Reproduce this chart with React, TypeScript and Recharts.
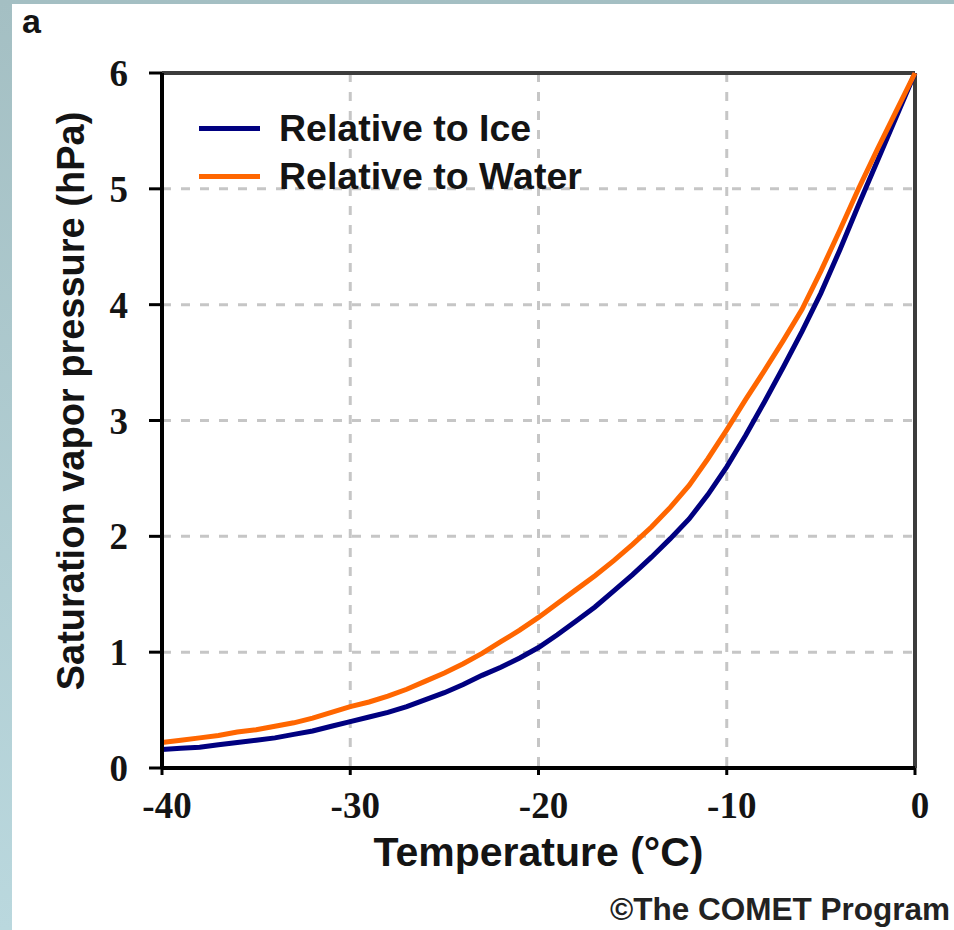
import { LineChart, Line, XAxis, YAxis, CartesianGrid, Legend, ReferenceLine, Label } from 'recharts';

const temps = [
  -40, -39, -38, -37, -36, -35, -34, -33, -32, -31, -30, -29, -28, -27, -26, -25, -24, -23, -22, -21,
  -20, -19, -18, -17, -16, -15, -14, -13, -12, -11, -10, -9, -8, -7, -6, -5, -4, -3, -2, -1, 0,
];
const waterVals = [
  0.22, 0.24, 0.26, 0.28, 0.31, 0.33, 0.36, 0.39, 0.43, 0.48, 0.53, 0.57, 0.62, 0.68, 0.75, 0.82, 0.9, 0.99, 1.09, 1.19,
  1.3, 1.42, 1.54, 1.66, 1.79, 1.93, 2.08, 2.25, 2.44, 2.67, 2.92, 3.18, 3.43, 3.69, 3.96, 4.29, 4.64, 5.0, 5.34, 5.67, 6.0,
];
const iceVals = [
  0.16, 0.17, 0.18, 0.2, 0.22, 0.24, 0.26, 0.29, 0.32, 0.36, 0.4, 0.44, 0.48, 0.53, 0.59, 0.65, 0.72, 0.8, 0.87, 0.95,
  1.04, 1.15, 1.27, 1.39, 1.53, 1.67, 1.82, 1.98, 2.15, 2.36, 2.6, 2.87, 3.16, 3.46, 3.77, 4.1, 4.47, 4.86, 5.24, 5.62, 6.0,
];
const xTicks = [-40, -30, -20, -10, 0];
const yTicks = [0, 1, 2, 3, 4, 5, 6];

const data = temps.map((t, i) => ({ t, ice: iceVals[i], water: waterVals[i] }));

const SANS = '"Liberation Sans", Arial, sans-serif';
const SERIF = '"Liberation Serif", "Times New Roman", serif';
const ICE = '#000080';
const WATER = '#ff6600';
const INK = '#141414';

const tickStyle = { fontFamily: SERIF, fontWeight: 700, fontSize: 37, fill: INK };

function LegendBox() {
  const items = [
    { label: 'Relative to Ice', color: ICE },
    { label: 'Relative to Water', color: WATER },
  ];
  return (
    <div style={{ fontFamily: SANS, fontWeight: 700, fontSize: 37.5, color: INK }}>
      {items.map((it) => (
        <div key={it.label} style={{ display: 'flex', alignItems: 'center', height: 48 }}>
          <span style={{ width: 61, height: 5, background: it.color, marginRight: 19 }} />
          <span>{it.label}</span>
        </div>
      ))}
    </div>
  );
}

export default function App() {
  return (
    <div
      style={{
        position: 'absolute', left: 0, top: 0, width: 954, height: 930,
        background: 'linear-gradient(180deg, #a4bfc3 0%, #bad8de 100%)', overflow: 'hidden',
      }}
    >
      <div style={{ position: 'absolute', left: 12, top: 4, width: 942, height: 926, background: '#fff' }} />
      <div style={{ position: 'absolute', left: 22, top: 2, fontFamily: SANS, fontWeight: 700, fontSize: 34, color: INK }}>
        a
      </div>
      <div
        style={{
          position: 'absolute', right: 4, top: 891, fontFamily: SANS, fontWeight: 700,
          fontSize: 31.5, color: '#222', whiteSpace: 'nowrap',
        }}
      >
        ©The COMET Program
      </div>
      <div style={{ position: 'absolute', left: 0, top: 0 }}>
        <LineChart width={954} height={930} data={data} margin={{ top: 73, right: 39, left: 0, bottom: 0 }}>
          <CartesianGrid stroke="#c6c6c6" strokeWidth={3} strokeDasharray="9 10" />
          <XAxis
            dataKey="t" type="number" domain={[-40, 0]} ticks={xTicks} height={162}
            axisLine={{ stroke: '#000', strokeWidth: 4 }} tickLine={{ stroke: '#000', strokeWidth: 3 }}
            tickSize={7} tickMargin={17} tick={{ ...tickStyle, dx: 5 }} interval={0}
          >
            <Label
              value="Temperature (°C)" position="insideBottom" offset={64}
              style={{ fontFamily: SANS, fontWeight: 700, fontSize: 41, fill: INK }}
            />
          </XAxis>
          <YAxis
            type="number" domain={[0, 6]} ticks={yTicks} width={162} interval={0}
            axisLine={{ stroke: '#000', strokeWidth: 4 }} tickLine={{ stroke: '#000', strokeWidth: 3 }}
            tickSize={13} tickMargin={21} tick={tickStyle}
          >
            <Label
              content={() => (
                <text
                  transform="translate(84 401) rotate(-90)" textAnchor="middle"
                  style={{ fontFamily: SANS, fontWeight: 700, fontSize: 38, fill: INK }}
                >
                  Saturation vapor pressure (hPa)
                </text>
              )}
            />
          </YAxis>
          <ReferenceLine y={6} stroke="#3c3c3c" strokeWidth={4} />
          <ReferenceLine x={0} stroke="#3c3c3c" strokeWidth={4} />
          <Line type="linear" dataKey="ice" name="Relative to Ice" stroke={ICE} strokeWidth={5} dot={false} isAnimationActive={false} />
          <Line type="linear" dataKey="water" name="Relative to Water" stroke={WATER} strokeWidth={5} dot={false} isAnimationActive={false} />
          <Legend
            layout="vertical" align="center" verticalAlign="middle"
            wrapperStyle={{ left: 199, top: 104, width: 'auto', height: 'auto' }}
            content={() => <LegendBox />}
          />
        </LineChart>
      </div>
    </div>
  );
}
